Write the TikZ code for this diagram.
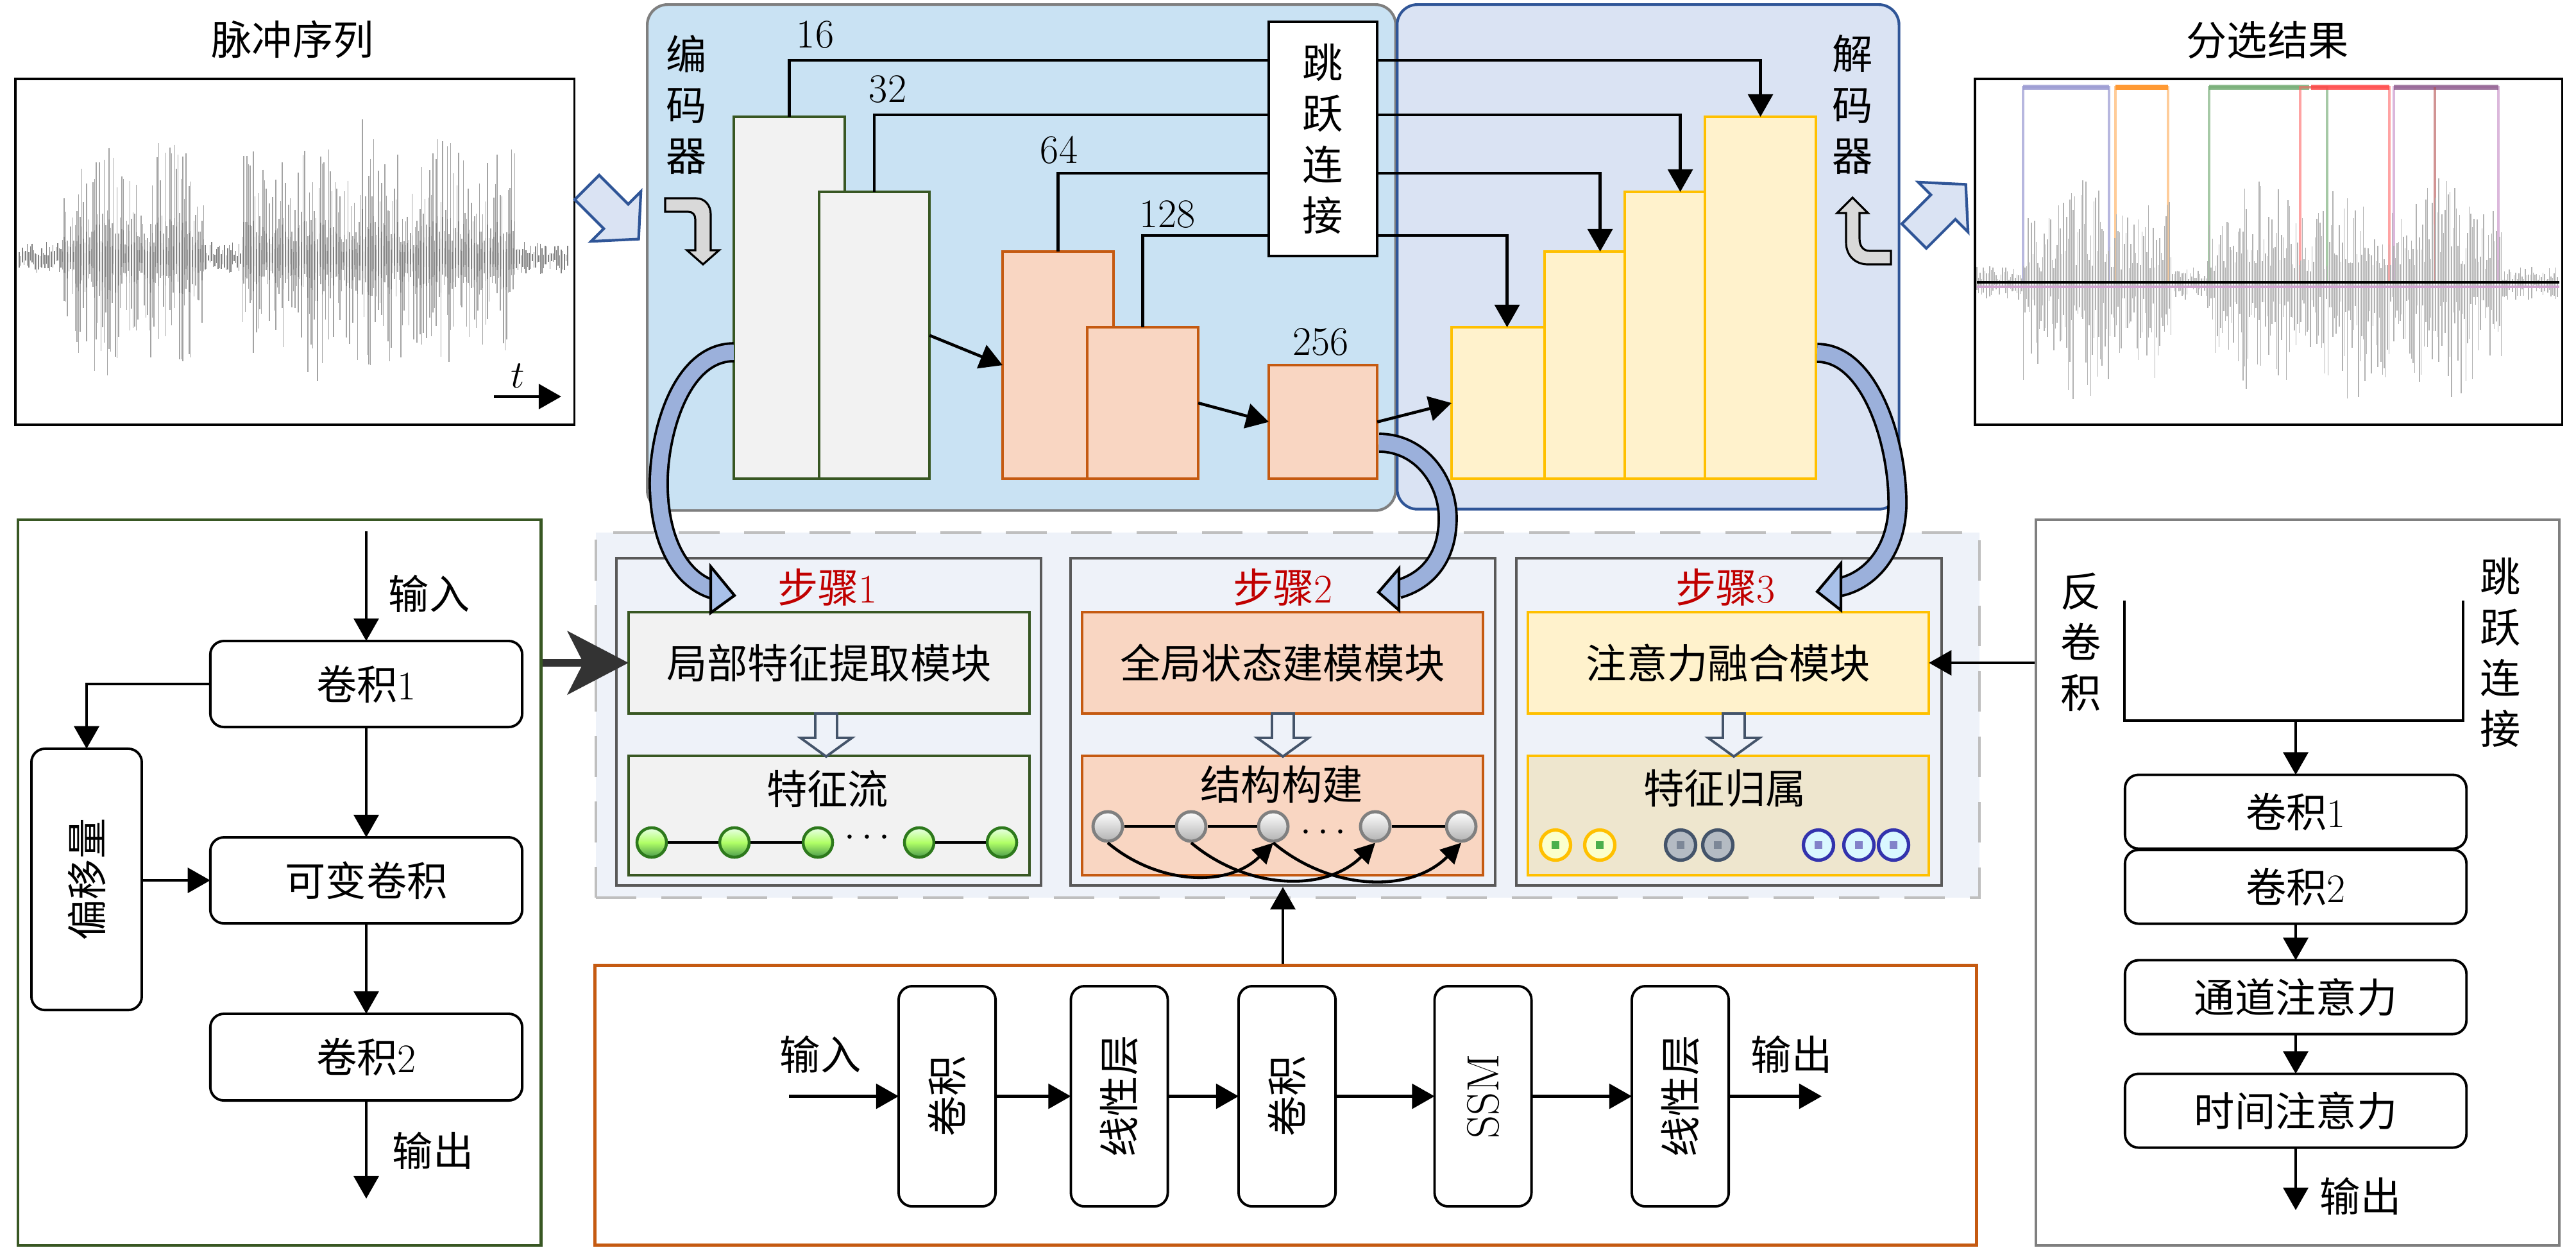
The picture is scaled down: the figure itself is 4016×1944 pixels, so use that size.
\documentclass[tikz,border=0pt]{standalone}
\usepackage{fontspec}
\newfontfamily\cjk{Noto Sans CJK SC}
\usetikzlibrary{arrows.meta,calc}
\newcommand\zh[1]{{\cjk #1}}
\newcommand\myfs{\fontsize{18}{22}\selectfont}
\newcommand\vfs{\fontsize{18}{22.5}\selectfont}
\definecolor{encB}{HTML}{C9E2F3}
\definecolor{encS}{HTML}{7F7F7F}
\definecolor{decB}{HTML}{DAE3F3}
\definecolor{decS}{HTML}{2F5597}
\definecolor{gS}{HTML}{385723}
\definecolor{gF}{HTML}{F2F2F2}
\definecolor{oS}{HTML}{C55A11}
\definecolor{oF}{HTML}{F9D6C2}
\definecolor{yS}{HTML}{FFC000}
\definecolor{yF}{HTML}{FFF2CC}
\definecolor{beige}{HTML}{EEE6CE}
\definecolor{cont}{HTML}{EEF2F9}
\definecolor{stepS}{HTML}{595959}
\definecolor{redT}{HTML}{C00000}
\definecolor{slate}{HTML}{44546A}
\definecolor{dashC}{HTML}{BFBFBF}
\definecolor{bandC}{HTML}{9BB0DB}
\definecolor{headC}{HTML}{A9C1EA}
\definecolor{rpS}{HTML}{7F7F7F}
\begin{document}
\begin{tikzpicture}[x=0.01cm,y=-0.01cm,
  base/.style={font=\myfs, inner sep=0pt, outer sep=0pt},
  arr/.style={line width=1.3pt, -{Triangle[length=10pt,width=11pt]}},
  sarr/.style={line width=1.3pt, -{Triangle[length=9pt,width=9pt]}},
  ln/.style={line width=1.3pt},
  rbox/.style={base, draw=black, line width=1.1pt, rounded corners=6pt, fill=white},
  ebox/.style={base, draw=gS, fill=gF, line width=1.1pt},
  obox/.style={base, draw=oS, fill=oF, line width=1.1pt},
  ybox/.style={base, draw=yS, fill=yF, line width=1.1pt},
  vtext/.style={base, font=\vfs\cjk, align=center},
  wave/.style={black!36, line width=0.45pt},
  waveD/.style={black!50, line width=0.45pt},
  waveR/.style={black!30, line width=0.45pt},
  gball/.style={circle, draw=gS!80!green, line width=1.3pt, top color=green!8, bottom color=green!45!black!70, middle color=green!35!lime!60, minimum size=0.46cm, inner sep=0},
  sball/.style={circle, draw=black!50, line width=1.4pt, top color=white, bottom color=black!30, minimum size=0.46cm, inner sep=0},
  fb/.style n args={3}{circle, draw=#1, line width=1.5pt, fill=#2, minimum size=0.47cm, inner sep=0,
     path picture={\fill[#3] ([xshift=-1.7pt,yshift=-1.7pt]path picture bounding box.center) rectangle ([xshift=1.7pt,yshift=1.7pt]path picture bounding box.center);}},
  blk/.style={draw=decS, fill=decB, line width=1.2pt, line join=miter},
  bent/.style={draw=black, fill=black!15, line width=0.9pt}
]
\useasboundingbox (0,0) rectangle (4016,1944);

% ---------------- left signal ----------------
\node[base] (tL) at (456,61) {\zh{脉冲序列}};
\pgfmathsetseed{4242}
\foreach \x in {30,32.5,...,885}{
  \pgfmathsetmacro\ra{rnd}
  \pgfmathsetmacro\rb{rnd}
  \pgfmathsetmacro\rc{rnd}
  \pgfmathsetmacro\env{0.6+0.4*abs(sin(\x*1.7))}
  \pgfmathtruncatemacro\inb{((\x>96)&&(\x<319))||((\x>376)&&(\x<803))}
  \ifnum\inb=1
    \pgfmathsetmacro\up{\env*(25+165*\ra*(0.4+0.6*\ra))+(\rc>0.95)*45}
    \pgfmathsetmacro\dn{\env*(25+165*\rb*(0.4+0.6*\rb))+(\rc<0.04)*50}
    \draw[wave] (\x,402-\up) -- (\x,402+\dn);
    \draw[waveD] (\x,402-0.35*\up) -- (\x,402+0.35*\dn);
  \else
    \pgfmathsetmacro\up{3+22*\ra}
    \pgfmathsetmacro\dn{3+22*\rb}
    \draw[waveD] (\x,402-\up) -- (\x,402+\dn);
  \fi
}
\node[draw, line width=1.1pt, minimum width=8.71cm, minimum height=5.39cm, anchor=north west, inner sep=0] (sigL) at (22,121) {};
\coordinate (ta) at (770,618);
\coordinate (tb) at (875,618);
\draw[arr] (ta) -- (tb);
\node[base] (tl) at (807,586) {$t$};

% ---------------- right signal ----------------
\node[base] (tR) at (3535,62) {\zh{分选结果}};
\draw[line width=1.2pt, draw=black!45!blue!40, opacity=0.7] (3154,440) -- (3154,136) -- (3288,136) -- (3288,440);
\draw[line width=2.5pt, draw=black!45!blue!40, opacity=0.8] (3154,136) -- (3288,136);
\draw[line width=1.2pt, draw=orange!50, opacity=0.8] (3298,440) -- (3298,136) -- (3380,136) -- (3380,440);
\draw[line width=2.5pt, draw=orange!80] (3298,136) -- (3380,136);
\draw[line width=1.2pt, draw=green!40!black!50, opacity=0.7] (3444,440) -- (3444,136) -- (3628,136) -- (3628,440);
\draw[line width=2.5pt, draw=green!40!black!55, opacity=0.8] (3444,136) -- (3600,136);
\draw[line width=1.2pt, draw=red!60, opacity=0.6] (3586,440) -- (3586,136) -- (3725,136) -- (3725,440);
\draw[line width=2.5pt, draw=red!65!pink, opacity=0.8] (3603,136) -- (3725,136);
\draw[line width=1.2pt, draw=violet!40, opacity=0.7] (3732,440) -- (3732,136) -- (3895,136) -- (3895,440);
\draw[line width=2.5pt, draw=violet!40!gray, opacity=0.7] (3732,136) -- (3895,136);
\draw[line width=1.2pt, draw=red!40!gray, opacity=0.6] (3796,440) -- (3796,136);
\pgfmathsetseed{777}
\foreach \x in {3082,3084.5,...,3988}{
  \pgfmathsetmacro\ra{rnd}
  \pgfmathsetmacro\rb{rnd}
  \pgfmathsetmacro\env{0.6+0.4*abs(sin(\x*1.3))}
  \pgfmathtruncatemacro\inb{((\x>3154)&&(\x<3385))||((\x>3440)&&(\x<3902))}
  \ifnum\inb=1
    \pgfmathsetmacro\up{\env*(25+140*\ra*(0.4+0.6*\ra))}
    \pgfmathsetmacro\dn{\env*(30+165*\rb*(0.4+0.6*\rb))}
  \else
    \pgfmathsetmacro\up{3+22*\ra}
    \pgfmathsetmacro\dn{3+24*\rb}
  \fi
  \draw[waveR] (\x,440-\up) -- (\x,440+\dn);
}
\draw[violet!35, line width=1pt] (3082,447) -- (3990,447);
\draw[black, line width=1.3pt] (3082,440) -- (3990,440);
\node[draw, line width=1.1pt, minimum width=9.15cm, minimum height=5.39cm, anchor=north west, inner sep=0] (sigR) at (3077,121) {};

% ---------------- block arrows ----------------
\begin{scope}[shift={(915,292)}, rotate=-45]
  \draw[blk] (0,-27) -- (64,-27) -- (64,-55) -- (114,0) -- (64,55) -- (64,27) -- (0,27) -- cycle;
\end{scope}
\begin{scope}[shift={(2984,368)}, rotate=45]
  \draw[blk] (0,-27) -- (64,-27) -- (64,-55) -- (114,0) -- (64,55) -- (64,27) -- (0,27) -- cycle;
\end{scope}

% ---------------- encoder / decoder ----------------
\node[draw=encS, fill=encB, line width=1.2pt, rounded corners=9pt, minimum width=11.66cm, minimum height=7.88cm, anchor=north west, inner sep=0] (enc) at (1007,5) {};
\node[draw=decS, fill=decB, line width=1.2pt, rounded corners=9pt, minimum width=7.82cm, minimum height=7.86cm, anchor=north west, inner sep=0] (dec) at (2176,5) {};

\node[vtext] (enct) at (1070,163) {编\\码\\器};
\node[vtext] (dect) at (2888,163) {解\\码\\器};
\draw[bent] (1037,309) -- (1085,309) .. controls (1099,309) and (1108,320) .. (1108,334) -- (1108,390) -- (1121,390) -- (1096,412) -- (1071,390) -- (1084,390) -- (1084,342) .. controls (1084,335) and (1080,330) .. (1073,330) -- (1037,330) -- cycle;
\draw[bent] (2888,308) -- (2912,332) -- (2899,332) -- (2899,372) .. controls (2899,384) and (2905,391) .. (2915,391) -- (2948,391) -- (2948,412) -- (2912,412) .. controls (2892,412) and (2878,398) .. (2878,378) -- (2878,332) -- (2864,332) -- cycle;

\node[ebox, minimum width=1.73cm, minimum height=5.64cm, anchor=north west] (e1) at (1144,182) {};
\node[ebox, minimum width=1.72cm, minimum height=4.47cm, anchor=north west] (e2) at (1277,299) {};
\node[obox, minimum width=1.73cm, minimum height=3.54cm, anchor=north west] (e3) at (1563,392) {};
\node[obox, minimum width=1.73cm, minimum height=2.36cm, anchor=north west] (e4) at (1695,510) {};
\node[obox, minimum width=1.69cm, minimum height=1.77cm, anchor=north west] (e5) at (1978,569) {};
\node[ybox, minimum width=1.73cm, minimum height=2.36cm, anchor=north west] (d1) at (2263,510) {};
\node[ybox, minimum width=1.73cm, minimum height=3.54cm, anchor=north west] (d2) at (2408,392) {};
\node[ybox, minimum width=1.73cm, minimum height=4.47cm, anchor=north west] (d3) at (2533,299) {};
\node[ybox, minimum width=1.73cm, minimum height=5.64cm, anchor=north west] (d4) at (2658,182) {};

\node[base, draw, fill=white, line width=1.1pt, minimum width=1.69cm, minimum height=3.65cm, font=\vfs\cjk, align=center] (skip) at (2062.5,216.5) {跳\\跃\\连\\接};
\coordinate (h1) at (0,94);
\coordinate (h2) at (0,179);
\coordinate (h3) at (0,270);
\coordinate (h4) at (0,367);
\draw[ln] (e1.north) |- (skip.west |- h1);
\draw[ln] (e2.north) |- (skip.west |- h2);
\draw[ln] (e3.north) |- (skip.west |- h3);
\draw[ln] (e4.north) |- (skip.west |- h4);
\draw[arr] (skip.east |- h1) -| (d4.north);
\draw[arr] (skip.east |- h2) -| (d3.north);
\draw[arr] (skip.east |- h3) -| (d2.north);
\draw[arr] (skip.east |- h4) -| (d1.north);
\node[base] (n16) at (1271,54) {16};
\node[base] (n32) at (1384,139) {32};
\node[base] (n64) at (1651,234) {64};
\node[base] (n128) at (1820,334) {128};
\node[base] (n256) at (2059,533) {256};
\draw[arr] (e2.east) -- (e3.west);
\draw[arr] (e4.east) -- (e5.west);
\draw[arr] (e5.east) -- (d1.west);

% ---------------- middle container ----------------
\node[draw=dashC, dash pattern=on 18pt off 11pt, fill=cont, line width=1.1pt, minimum width=21.56cm, minimum height=5.69cm, anchor=north west, inner sep=0] (cont) at (927,828) {};
\node[draw=stepS, fill=cont, line width=1.2pt, minimum width=6.62cm, minimum height=5.1cm, inner sep=0] (s1) at (1292,1125) {};
\node[draw=stepS, fill=cont, line width=1.2pt, minimum width=6.62cm, minimum height=5.1cm, inner sep=0] (s2) at (2000,1125) {};
\node[draw=stepS, fill=cont, line width=1.2pt, minimum width=6.63cm, minimum height=5.1cm, inner sep=0] (s3) at (2695.5,1125) {};
\node[base, text=redT] (l1) at (1290,915) {\zh{步骤}1};
\node[base, text=redT] (l2) at (2000,915) {\zh{步骤}2};
\node[base, text=redT] (l3) at (2690,915) {\zh{步骤}3};

\node[ebox, minimum width=6.25cm, minimum height=1.58cm] (m1) at (1292.5,1033) {\zh{局部特征提取模块}};
\node[obox, minimum width=6.25cm, minimum height=1.58cm] (m2) at (1999.5,1033) {\zh{全局状态建模模块}};
\node[ybox, minimum width=6.25cm, minimum height=1.58cm] (m3) at (2694.5,1033) {\zh{注意力融合模块}};
\node[ebox, minimum width=6.25cm, minimum height=1.86cm] (f1) at (1292.5,1271) {};
\node[obox, minimum width=6.25cm, minimum height=1.86cm] (f2) at (1999.5,1271) {};
\node[base, draw=yS, fill=beige, line width=1.1pt, minimum width=6.25cm, minimum height=1.86cm] (f3) at (2694.5,1271) {};
\node[base] (f1t) at (1290,1229) {\zh{特征流}};
\node[base] (f2t) at (1998,1222) {\zh{结构构建}};
\node[base] (f3t) at (2689,1229) {\zh{特征归属}};

\foreach \cx in {1288,2000,2703}{
  \draw[slate, line width=1.1pt, fill=cont, line join=miter] (\cx-17,1112) -- (\cx+17,1112) -- (\cx+17,1150) -- (\cx+40,1150) -- (\cx,1179) -- (\cx-40,1150) -- (\cx-17,1150) -- cycle;
}

% green balls
\node[gball] (g1) at (1016,1313) {};
\node[gball] (g2) at (1145,1313) {};
\node[gball] (g3) at (1275,1313) {};
\node[gball] (g4) at (1433,1313) {};
\node[gball] (g5) at (1562,1313) {};
\draw[ln] (g1) -- (g2);
\draw[ln] (g2) -- (g3);
\draw[ln] (g4) -- (g5);
\node[base] (gd) at (1352,1306) {$\cdots$};
% gray balls
\node[sball] (b1) at (1727,1288) {};
\node[sball] (b2) at (1857,1288) {};
\node[sball] (b3) at (1985,1288) {};
\node[sball] (b4) at (2144,1288) {};
\node[sball] (b5) at (2278,1288) {};
\draw[ln] (b1) -- (b2);
\draw[ln] (b2) -- (b3);
\draw[ln] (b4) -- (b5);
\node[base] (bd) at (2063,1298) {$\cdots$};
\draw[sarr] (b1.south) to[out=-40,in=-135] (b3.south);
\draw[sarr] (b2.south) to[out=-40,in=-135] (b4.south);
\draw[sarr] (b3.south) to[out=-40,in=-135] (b5.south);
% step3 balls
\node[fb={yS}{green!8!yellow!20}{green!55!black!70}] (p1) at (2425,1317) {};
\node[fb={yS}{green!8!yellow!20}{green!55!black!70}] (p2) at (2494,1317) {};
\node[fb={slate}{slate!40}{slate!70}] (p3) at (2620,1317) {};
\node[fb={slate}{slate!40}{slate!70}] (p4) at (2678,1317) {};
\node[fb={blue!60!black!80}{blue!20!cyan!15}{blue!40!gray!70}] (p5) at (2835,1317) {};
\node[fb={blue!60!black!80}{blue!20!cyan!15}{blue!40!gray!70}] (p6) at (2898,1317) {};
\node[fb={blue!60!black!80}{blue!20!cyan!15}{blue!40!gray!70}] (p7) at (2952,1317) {};

% ---------------- left panel ----------------
\node[draw=gS, line width=1.2pt, fill=white, minimum width=8.15cm, minimum height=11.30cm, anchor=north west, inner sep=0] (lp) at (26,808) {};
\node[rbox, minimum width=4.86cm, minimum height=1.34cm] (c1) at (571,1066) {\zh{卷积}1};
\node[rbox, minimum width=4.86cm, minimum height=1.34cm] (dv) at (571,1372) {\zh{可变卷积}};
\node[rbox, minimum width=4.86cm, minimum height=1.35cm] (c2) at (571,1647.5) {\zh{卷积}2};
\node[rbox, minimum width=1.72cm, minimum height=4.07cm] (off) at (135,1370.5) {\rotatebox{90}{\zh{偏移量}}};
\coordinate (lin) at (571,828);
\coordinate (lout) at (571,1868);
\draw[arr] (lin) -- (c1.north);
\node[base] (lint) at (669,925) {\zh{输入}};
\draw[arr] (c1.south) -- (dv.north);
\draw[arr] (c1.west) -| (off.north);
\draw[arr] (off.east |- dv.west) -- (dv.west);
\draw[arr] (dv.south) -- (c2.north);
\draw[arr] (c2.south) -- (lout);
\node[base] (loutt) at (675,1793) {\zh{输出}};
\draw[line width=3.4pt, draw=black!80, -{Stealth[length=27pt,width=28pt,inset=7pt]}] (lp.east |- m1.west) -- (m1.west);

% ---------------- right panel ----------------
\node[draw=rpS, line width=1.2pt, fill=white, minimum width=8.15cm, minimum height=11.30cm, anchor=north west, inner sep=0] (rp) at (3172,808) {};
\node[vtext] (fjj) at (3244,1001) {反\\卷\\积};
\node[vtext] (tylj) at (3898,1017) {跳\\跃\\连\\接};
\coordinate (bk1) at (3312,936);
\coordinate (bk2) at (3312,1123);
\coordinate (bk3) at (3840,1123);
\coordinate (bk4) at (3840,936);
\draw[ln] (bk1) -- (bk2) -- (bk3) -- (bk4);
\node[rbox, minimum width=5.32cm, minimum height=1.15cm] (r1) at (3579,1265) {\zh{卷积}1};
\node[rbox, minimum width=5.32cm, minimum height=1.15cm] (r2) at (3579,1382) {\zh{卷积}2};
\node[rbox, minimum width=5.32cm, minimum height=1.15cm] (r3) at (3579,1554) {\zh{通道注意力}};
\node[rbox, minimum width=5.32cm, minimum height=1.15cm] (r4) at (3579,1731) {\zh{时间注意力}};
\coordinate (rout) at (3579,1886);
\draw[arr] (r1.north |- bk2) -- (r1.north);
\draw[arr] (r2.south) -- (r3.north);
\draw[arr] (r3.south) -- (r4.north);
\draw[arr] (r4.south) -- (rout);
\node[base] (routt) at (3680,1864) {\zh{输出}};
\draw[arr] (m3.east -| rp.west) -- (m3.east);

% ---------------- bottom panel ----------------
\node[draw=oS, line width=1.3pt, fill=white, minimum width=21.53cm, minimum height=4.36cm, anchor=north west, inner sep=0] (bp) at (925,1502) {};
\node[rbox, minimum width=1.51cm, minimum height=3.43cm] (v1) at (1476.5,1708.5) {\rotatebox{90}{\zh{卷积}}};
\node[rbox, minimum width=1.51cm, minimum height=3.43cm] (v2) at (1745,1708.5) {\rotatebox{90}{\zh{线性层}}};
\node[rbox, minimum width=1.51cm, minimum height=3.43cm] (v3) at (2006.5,1708.5) {\rotatebox{90}{\zh{卷积}}};
\node[rbox, minimum width=1.51cm, minimum height=3.43cm] (v4) at (2312,1708.5) {\rotatebox{90}{\fontsize{20}{22}\selectfont SSM}};
\node[rbox, minimum width=1.51cm, minimum height=3.43cm] (v5) at (2619.5,1708.5) {\rotatebox{90}{\zh{线性层}}};
\coordinate (bin) at (1230,1708.5);
\coordinate (bout) at (2840,1708.5);
\draw[arr] (bin) -- (v1.west);
\draw[arr] (v1.east) -- (v2.west);
\draw[arr] (v2.east) -- (v3.west);
\draw[arr] (v3.east) -- (v4.west);
\draw[arr] (v4.east) -- (v5.west);
\draw[arr] (v5.east) -- (bout);
\node[base] (bint) at (1279,1643) {\zh{输入}};
\node[base] (boutt) at (2793,1643) {\zh{输出}};
\draw[arr] (s2.south |- bp.north) -- (s2.south);

% ---------------- curved arrows ----------------
\coordinate (a1s) at (1144,549);
\coordinate (a1e) at (1112,919);
\coordinate (a2s) at (2150,690);
\coordinate (a2e) at (2180,918);
\coordinate (a3s) at (2833,550);
\coordinate (a3e) at (2868,915);
\draw[line width=9pt, black] (a1s) .. controls (1060,549) and (1025,680) .. (1027,760) .. controls (1029,850) and (1065,905) .. (a1e);
\draw[line width=6.8pt, bandC] (a1s) .. controls (1060,549) and (1025,680) .. (1027,760) .. controls (1029,850) and (1065,905) .. (a1e);
\draw[line width=1.2pt, fill=headC, line join=miter] (1108,883) -- (1145,928) -- (1108,955) -- cycle;
\draw[line width=9pt, black] (a2s) .. controls (2215,690) and (2258,750) .. (2257,810) .. controls (2256,870) and (2225,905) .. (a2e);
\draw[line width=6.8pt, bandC] (a2s) .. controls (2215,690) and (2258,750) .. (2257,810) .. controls (2256,870) and (2225,905) .. (a2e);
\draw[line width=1.2pt, fill=headC, line join=miter] (2181,886) -- (2149,923) -- (2181,951) -- cycle;
\draw[line width=9pt, black] (a3s) .. controls (2915,550) and (2960,690) .. (2958,790) .. controls (2956,860) and (2915,905) .. (a3e);
\draw[line width=6.8pt, bandC] (a3s) .. controls (2915,550) and (2960,690) .. (2958,790) .. controls (2956,860) and (2915,905) .. (a3e);
\draw[line width=1.2pt, fill=headC, line join=miter] (2870,878) -- (2833,922) -- (2870,951) -- cycle;
\end{tikzpicture}
\end{document}
